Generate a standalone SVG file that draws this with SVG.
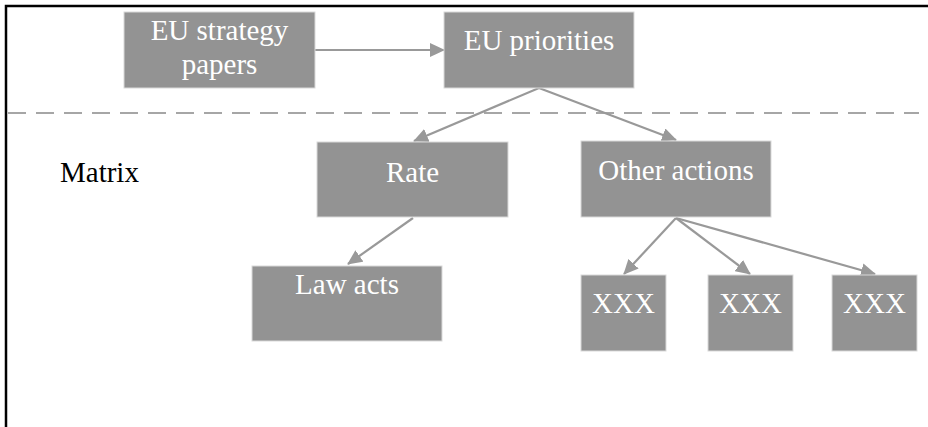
<svg xmlns="http://www.w3.org/2000/svg" width="928" height="427" viewBox="0 0 928 427">
<style>
.box{fill:#939393;stroke:#d9d9d9;stroke-width:1}
.lbl{font-family:"Liberation Serif","Times New Roman",serif;font-size:29px;fill:#ffffff;text-anchor:middle}
.conn{stroke:#999999;stroke-width:2.2;fill:none}
</style>
<defs>
<marker id="ah" markerUnits="userSpaceOnUse" markerWidth="16" markerHeight="14" refX="14" refY="7" orient="auto">
<path d="M0,0 L15,7 L0,14 Z" fill="#999999"/>
</marker>
</defs>
<rect width="928" height="427" fill="#ffffff"/>
<rect x="6" y="6" width="1000" height="500" fill="none" stroke="#000000" stroke-width="2.5"/>
<line x1="8" y1="113" x2="919" y2="113" stroke="#a6a6a6" stroke-width="2" stroke-dasharray="18,10"/>
<text x="60" y="182" font-family="Liberation Serif, Times New Roman, serif" font-size="29" fill="#000000">Matrix</text>
<g id="connectors">
<line class="conn" x1="315" y1="50" x2="444" y2="50" marker-end="url(#ah)"/>
<line class="conn" x1="539" y1="88" x2="414" y2="141" marker-end="url(#ah)"/>
<line class="conn" x1="539" y1="88" x2="676" y2="140" marker-end="url(#ah)"/>
<line class="conn" x1="413" y1="218" x2="348" y2="264" marker-end="url(#ah)"/>
<line class="conn" x1="676" y1="218" x2="624" y2="274" marker-end="url(#ah)"/>
<line class="conn" x1="676" y1="218" x2="750" y2="274" marker-end="url(#ah)"/>
<line class="conn" x1="676" y1="218" x2="875" y2="274" marker-end="url(#ah)"/>
</g>
<g id="eu-strategy-papers">
<rect class="box" x="124" y="12" width="191" height="76"/>
<text class="lbl" x="219.5" y="40">EU strategy</text>
<text class="lbl" x="219.5" y="74">papers</text>
</g>
<g id="eu-priorities">
<rect class="box" x="444" y="12" width="190" height="76"/>
<text class="lbl" x="539" y="50">EU priorities</text>
</g>
<g id="rate">
<rect class="box" x="317" y="142" width="191" height="75"/>
<text class="lbl" x="412.5" y="182">Rate</text>
</g>
<g id="other-actions">
<rect class="box" x="581" y="141" width="190" height="76"/>
<text class="lbl" x="676" y="180">Other actions</text>
</g>
<g id="law-acts">
<rect class="box" x="252" y="266" width="190" height="75"/>
<text class="lbl" x="347" y="294">Law acts</text>
</g>
<g id="xxx-1">
<rect class="box" x="581" y="275" width="85" height="76"/>
<text class="lbl" x="623.5" y="313">XXX</text>
</g>
<g id="xxx-2">
<rect class="box" x="708" y="275" width="85" height="76"/>
<text class="lbl" x="750.5" y="313">XXX</text>
</g>
<g id="xxx-3">
<rect class="box" x="832" y="275" width="85" height="76"/>
<text class="lbl" x="874.5" y="313">XXX</text>
</g>
</svg>
